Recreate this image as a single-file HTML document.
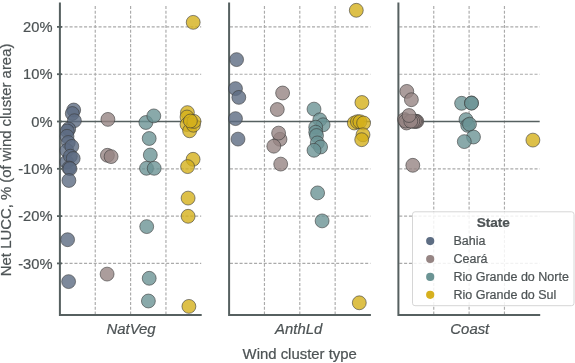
<!DOCTYPE html>
<html><head><meta charset="utf-8"><style>
html,body{margin:0;padding:0;background:#fff;}
body{width:575px;height:363px;overflow:hidden;}
svg{display:block;will-change:transform;}
.t{font-family:"Liberation Sans",sans-serif;font-size:14.7px;fill:#4d5355;stroke:#4d5355;stroke-width:0.22px;}
.lab{font-size:14.9px;}
.leg{font-size:12.5px;}
.ttl{font-size:13.6px;}
.i{font-style:italic;}
.b{font-weight:bold;}
</style></head><body>
<svg width="575" height="363" viewBox="0 0 575 363">
<line x1="95.25" y1="314.6" x2="95.25" y2="5.8" stroke="#aaaaaa" stroke-width="1.15" stroke-dasharray="3.05 1.726"/>
<line x1="130.60" y1="314.6" x2="130.60" y2="5.8" stroke="#aaaaaa" stroke-width="1.15" stroke-dasharray="3.05 1.726"/>
<line x1="165.95" y1="314.6" x2="165.95" y2="5.8" stroke="#aaaaaa" stroke-width="1.15" stroke-dasharray="3.05 1.726"/>
<line x1="59.9" y1="26.90" x2="201.20" y2="26.90" stroke="#aaaaaa" stroke-width="1.15" stroke-dasharray="3.05 1.78"/>
<line x1="59.9" y1="74.20" x2="201.20" y2="74.20" stroke="#aaaaaa" stroke-width="1.15" stroke-dasharray="3.05 1.78"/>
<line x1="59.9" y1="168.80" x2="201.20" y2="168.80" stroke="#aaaaaa" stroke-width="1.15" stroke-dasharray="3.05 1.78"/>
<line x1="59.9" y1="216.10" x2="201.20" y2="216.10" stroke="#aaaaaa" stroke-width="1.15" stroke-dasharray="3.05 1.78"/>
<line x1="59.9" y1="263.40" x2="201.20" y2="263.40" stroke="#aaaaaa" stroke-width="1.15" stroke-dasharray="3.05 1.78"/>
<line x1="264.45" y1="314.6" x2="264.45" y2="5.8" stroke="#aaaaaa" stroke-width="1.15" stroke-dasharray="3.05 1.726"/>
<line x1="299.80" y1="314.6" x2="299.80" y2="5.8" stroke="#aaaaaa" stroke-width="1.15" stroke-dasharray="3.05 1.726"/>
<line x1="335.15" y1="314.6" x2="335.15" y2="5.8" stroke="#aaaaaa" stroke-width="1.15" stroke-dasharray="3.05 1.726"/>
<line x1="229.9" y1="26.90" x2="370.40" y2="26.90" stroke="#aaaaaa" stroke-width="1.15" stroke-dasharray="3.05 1.78"/>
<line x1="229.9" y1="74.20" x2="370.40" y2="74.20" stroke="#aaaaaa" stroke-width="1.15" stroke-dasharray="3.05 1.78"/>
<line x1="229.9" y1="168.80" x2="370.40" y2="168.80" stroke="#aaaaaa" stroke-width="1.15" stroke-dasharray="3.05 1.78"/>
<line x1="229.9" y1="216.10" x2="370.40" y2="216.10" stroke="#aaaaaa" stroke-width="1.15" stroke-dasharray="3.05 1.78"/>
<line x1="229.9" y1="263.40" x2="370.40" y2="263.40" stroke="#aaaaaa" stroke-width="1.15" stroke-dasharray="3.05 1.78"/>
<line x1="433.75" y1="314.6" x2="433.75" y2="5.8" stroke="#aaaaaa" stroke-width="1.15" stroke-dasharray="3.05 1.726"/>
<line x1="469.10" y1="314.6" x2="469.10" y2="5.8" stroke="#aaaaaa" stroke-width="1.15" stroke-dasharray="3.05 1.726"/>
<line x1="504.45" y1="314.6" x2="504.45" y2="5.8" stroke="#aaaaaa" stroke-width="1.15" stroke-dasharray="3.05 1.726"/>
<line x1="399.25" y1="26.90" x2="539.70" y2="26.90" stroke="#aaaaaa" stroke-width="1.15" stroke-dasharray="3.05 1.78"/>
<line x1="399.25" y1="74.20" x2="539.70" y2="74.20" stroke="#aaaaaa" stroke-width="1.15" stroke-dasharray="3.05 1.78"/>
<line x1="399.25" y1="168.80" x2="539.70" y2="168.80" stroke="#aaaaaa" stroke-width="1.15" stroke-dasharray="3.05 1.78"/>
<line x1="399.25" y1="216.10" x2="539.70" y2="216.10" stroke="#aaaaaa" stroke-width="1.15" stroke-dasharray="3.05 1.78"/>
<line x1="399.25" y1="263.40" x2="539.70" y2="263.40" stroke="#aaaaaa" stroke-width="1.15" stroke-dasharray="3.05 1.78"/>
<line x1="59.9" y1="121.5" x2="201.20" y2="121.5" stroke="#566060" stroke-width="1.4"/>
<line x1="229.1" y1="121.5" x2="370.40" y2="121.5" stroke="#566060" stroke-width="1.4"/>
<line x1="398.4" y1="121.5" x2="539.70" y2="121.5" stroke="#566060" stroke-width="1.4"/>
<path d="M59.9 2.5 V315.0 H201.70" fill="none" stroke="#566060" stroke-width="2" stroke-linejoin="miter"/>
<path d="M229.1 2.5 V315.0 H370.90" fill="none" stroke="#566060" stroke-width="2" stroke-linejoin="miter"/>
<path d="M398.4 2.5 V315.0 H540.20" fill="none" stroke="#566060" stroke-width="2" stroke-linejoin="miter"/>
<circle cx="73.7" cy="110" r="6.95" fill="#5c6c82" fill-opacity="0.8" stroke="#3a3a3a" stroke-opacity="0.85" stroke-width="0.7"/>
<circle cx="72.3" cy="113.5" r="6.95" fill="#5c6c82" fill-opacity="0.8" stroke="#3a3a3a" stroke-opacity="0.85" stroke-width="0.7"/>
<circle cx="74.4" cy="120.7" r="6.95" fill="#5c6c82" fill-opacity="0.8" stroke="#3a3a3a" stroke-opacity="0.85" stroke-width="0.7"/>
<circle cx="68.7" cy="129" r="6.95" fill="#5c6c82" fill-opacity="0.8" stroke="#3a3a3a" stroke-opacity="0.85" stroke-width="0.7"/>
<circle cx="67.3" cy="131" r="6.95" fill="#5c6c82" fill-opacity="0.8" stroke="#3a3a3a" stroke-opacity="0.85" stroke-width="0.7"/>
<circle cx="67" cy="136.3" r="6.95" fill="#5c6c82" fill-opacity="0.8" stroke="#3a3a3a" stroke-opacity="0.85" stroke-width="0.7"/>
<circle cx="68.3" cy="142.5" r="6.95" fill="#5c6c82" fill-opacity="0.8" stroke="#3a3a3a" stroke-opacity="0.85" stroke-width="0.7"/>
<circle cx="66.8" cy="150.5" r="6.95" fill="#5c6c82" fill-opacity="0.8" stroke="#3a3a3a" stroke-opacity="0.85" stroke-width="0.7"/>
<circle cx="71.8" cy="146.4" r="6.95" fill="#5c6c82" fill-opacity="0.8" stroke="#3a3a3a" stroke-opacity="0.85" stroke-width="0.7"/>
<circle cx="66.8" cy="162" r="6.95" fill="#5c6c82" fill-opacity="0.8" stroke="#3a3a3a" stroke-opacity="0.85" stroke-width="0.7"/>
<circle cx="70.4" cy="156.2" r="6.95" fill="#5c6c82" fill-opacity="0.8" stroke="#3a3a3a" stroke-opacity="0.85" stroke-width="0.7"/>
<circle cx="73.2" cy="158.5" r="6.95" fill="#5c6c82" fill-opacity="0.8" stroke="#3a3a3a" stroke-opacity="0.85" stroke-width="0.7"/>
<circle cx="69" cy="168" r="6.95" fill="#5c6c82" fill-opacity="0.8" stroke="#3a3a3a" stroke-opacity="0.85" stroke-width="0.7"/>
<circle cx="70" cy="168.7" r="6.95" fill="#5c6c82" fill-opacity="0.8" stroke="#3a3a3a" stroke-opacity="0.85" stroke-width="0.7"/>
<circle cx="68.9" cy="180.5" r="6.95" fill="#5c6c82" fill-opacity="0.8" stroke="#3a3a3a" stroke-opacity="0.85" stroke-width="0.7"/>
<circle cx="67.6" cy="239.7" r="6.95" fill="#5c6c82" fill-opacity="0.8" stroke="#3a3a3a" stroke-opacity="0.85" stroke-width="0.7"/>
<circle cx="68.6" cy="281.6" r="6.95" fill="#5c6c82" fill-opacity="0.8" stroke="#3a3a3a" stroke-opacity="0.85" stroke-width="0.7"/>
<circle cx="107.9" cy="119.4" r="6.95" fill="#968483" fill-opacity="0.8" stroke="#3a3a3a" stroke-opacity="0.85" stroke-width="0.7"/>
<circle cx="107.4" cy="155.3" r="6.95" fill="#968483" fill-opacity="0.8" stroke="#3a3a3a" stroke-opacity="0.85" stroke-width="0.7"/>
<circle cx="111.1" cy="156.6" r="6.95" fill="#968483" fill-opacity="0.8" stroke="#3a3a3a" stroke-opacity="0.85" stroke-width="0.7"/>
<circle cx="107.1" cy="274.1" r="6.95" fill="#968483" fill-opacity="0.8" stroke="#3a3a3a" stroke-opacity="0.85" stroke-width="0.7"/>
<circle cx="145.9" cy="122.5" r="6.95" fill="#6c9395" fill-opacity="0.8" stroke="#3a3a3a" stroke-opacity="0.85" stroke-width="0.7"/>
<circle cx="153.8" cy="115.9" r="6.95" fill="#6c9395" fill-opacity="0.8" stroke="#3a3a3a" stroke-opacity="0.85" stroke-width="0.7"/>
<circle cx="149.2" cy="138.5" r="6.95" fill="#6c9395" fill-opacity="0.8" stroke="#3a3a3a" stroke-opacity="0.85" stroke-width="0.7"/>
<circle cx="150.3" cy="155" r="6.95" fill="#6c9395" fill-opacity="0.8" stroke="#3a3a3a" stroke-opacity="0.85" stroke-width="0.7"/>
<circle cx="146.5" cy="168.3" r="6.95" fill="#6c9395" fill-opacity="0.8" stroke="#3a3a3a" stroke-opacity="0.85" stroke-width="0.7"/>
<circle cx="154.2" cy="168.3" r="6.95" fill="#6c9395" fill-opacity="0.8" stroke="#3a3a3a" stroke-opacity="0.85" stroke-width="0.7"/>
<circle cx="146.7" cy="226.6" r="6.95" fill="#6c9395" fill-opacity="0.8" stroke="#3a3a3a" stroke-opacity="0.85" stroke-width="0.7"/>
<circle cx="149.2" cy="278.3" r="6.95" fill="#6c9395" fill-opacity="0.8" stroke="#3a3a3a" stroke-opacity="0.85" stroke-width="0.7"/>
<circle cx="148.4" cy="301" r="6.95" fill="#6c9395" fill-opacity="0.8" stroke="#3a3a3a" stroke-opacity="0.85" stroke-width="0.7"/>
<circle cx="193.2" cy="22.35" r="6.95" fill="#d5b01c" fill-opacity="0.8" stroke="#3a3a3a" stroke-opacity="0.85" stroke-width="0.7"/>
<circle cx="187.4" cy="112.6" r="6.95" fill="#d5b01c" fill-opacity="0.8" stroke="#3a3a3a" stroke-opacity="0.85" stroke-width="0.7"/>
<circle cx="187" cy="117" r="6.95" fill="#d5b01c" fill-opacity="0.8" stroke="#3a3a3a" stroke-opacity="0.85" stroke-width="0.7"/>
<circle cx="187" cy="124.5" r="6.95" fill="#d5b01c" fill-opacity="0.8" stroke="#3a3a3a" stroke-opacity="0.85" stroke-width="0.7"/>
<circle cx="189.6" cy="130.8" r="6.95" fill="#d5b01c" fill-opacity="0.8" stroke="#3a3a3a" stroke-opacity="0.85" stroke-width="0.7"/>
<circle cx="193.4" cy="125.2" r="6.95" fill="#d5b01c" fill-opacity="0.8" stroke="#3a3a3a" stroke-opacity="0.85" stroke-width="0.7"/>
<circle cx="194" cy="121.4" r="6.95" fill="#d5b01c" fill-opacity="0.8" stroke="#3a3a3a" stroke-opacity="0.85" stroke-width="0.7"/>
<circle cx="190.4" cy="121" r="6.95" fill="#d5b01c" fill-opacity="0.8" stroke="#3a3a3a" stroke-opacity="0.85" stroke-width="0.7"/>
<circle cx="193.1" cy="159.3" r="6.95" fill="#d5b01c" fill-opacity="0.8" stroke="#3a3a3a" stroke-opacity="0.85" stroke-width="0.7"/>
<circle cx="187.6" cy="166.6" r="6.95" fill="#d5b01c" fill-opacity="0.8" stroke="#3a3a3a" stroke-opacity="0.85" stroke-width="0.7"/>
<circle cx="188.1" cy="198.1" r="6.95" fill="#d5b01c" fill-opacity="0.8" stroke="#3a3a3a" stroke-opacity="0.85" stroke-width="0.7"/>
<circle cx="188.1" cy="216.3" r="6.95" fill="#d5b01c" fill-opacity="0.8" stroke="#3a3a3a" stroke-opacity="0.85" stroke-width="0.7"/>
<circle cx="188.9" cy="306.4" r="6.95" fill="#d5b01c" fill-opacity="0.8" stroke="#3a3a3a" stroke-opacity="0.85" stroke-width="0.7"/>
<circle cx="236.6" cy="59.6" r="6.95" fill="#5c6c82" fill-opacity="0.8" stroke="#3a3a3a" stroke-opacity="0.85" stroke-width="0.7"/>
<circle cx="235.5" cy="88.6" r="6.95" fill="#5c6c82" fill-opacity="0.8" stroke="#3a3a3a" stroke-opacity="0.85" stroke-width="0.7"/>
<circle cx="238.8" cy="97.4" r="6.95" fill="#5c6c82" fill-opacity="0.8" stroke="#3a3a3a" stroke-opacity="0.85" stroke-width="0.7"/>
<circle cx="235.5" cy="118.6" r="6.95" fill="#5c6c82" fill-opacity="0.8" stroke="#3a3a3a" stroke-opacity="0.85" stroke-width="0.7"/>
<circle cx="238" cy="139.1" r="6.95" fill="#5c6c82" fill-opacity="0.8" stroke="#3a3a3a" stroke-opacity="0.85" stroke-width="0.7"/>
<circle cx="282.6" cy="93" r="6.95" fill="#968483" fill-opacity="0.8" stroke="#3a3a3a" stroke-opacity="0.85" stroke-width="0.7"/>
<circle cx="277.3" cy="109.5" r="6.95" fill="#968483" fill-opacity="0.8" stroke="#3a3a3a" stroke-opacity="0.85" stroke-width="0.7"/>
<circle cx="280" cy="139.3" r="6.95" fill="#968483" fill-opacity="0.8" stroke="#3a3a3a" stroke-opacity="0.85" stroke-width="0.7"/>
<circle cx="278.6" cy="133.1" r="6.95" fill="#968483" fill-opacity="0.8" stroke="#3a3a3a" stroke-opacity="0.85" stroke-width="0.7"/>
<circle cx="273.8" cy="146.2" r="6.95" fill="#968483" fill-opacity="0.8" stroke="#3a3a3a" stroke-opacity="0.85" stroke-width="0.7"/>
<circle cx="280.7" cy="164.1" r="6.95" fill="#968483" fill-opacity="0.8" stroke="#3a3a3a" stroke-opacity="0.85" stroke-width="0.7"/>
<circle cx="314" cy="109.1" r="6.95" fill="#6c9395" fill-opacity="0.8" stroke="#3a3a3a" stroke-opacity="0.85" stroke-width="0.7"/>
<circle cx="319.8" cy="119.8" r="6.95" fill="#6c9395" fill-opacity="0.8" stroke="#3a3a3a" stroke-opacity="0.85" stroke-width="0.7"/>
<circle cx="323.1" cy="124.8" r="6.95" fill="#6c9395" fill-opacity="0.8" stroke="#3a3a3a" stroke-opacity="0.85" stroke-width="0.7"/>
<circle cx="315.7" cy="127.2" r="6.95" fill="#6c9395" fill-opacity="0.8" stroke="#3a3a3a" stroke-opacity="0.85" stroke-width="0.7"/>
<circle cx="315.7" cy="132.2" r="6.95" fill="#6c9395" fill-opacity="0.8" stroke="#3a3a3a" stroke-opacity="0.85" stroke-width="0.7"/>
<circle cx="316.5" cy="135.5" r="6.95" fill="#6c9395" fill-opacity="0.8" stroke="#3a3a3a" stroke-opacity="0.85" stroke-width="0.7"/>
<circle cx="317.3" cy="142.9" r="6.95" fill="#6c9395" fill-opacity="0.8" stroke="#3a3a3a" stroke-opacity="0.85" stroke-width="0.7"/>
<circle cx="320.6" cy="147" r="6.95" fill="#6c9395" fill-opacity="0.8" stroke="#3a3a3a" stroke-opacity="0.85" stroke-width="0.7"/>
<circle cx="314" cy="150.3" r="6.95" fill="#6c9395" fill-opacity="0.8" stroke="#3a3a3a" stroke-opacity="0.85" stroke-width="0.7"/>
<circle cx="317.6" cy="192.9" r="6.95" fill="#6c9395" fill-opacity="0.8" stroke="#3a3a3a" stroke-opacity="0.85" stroke-width="0.7"/>
<circle cx="322.1" cy="220.9" r="6.95" fill="#6c9395" fill-opacity="0.8" stroke="#3a3a3a" stroke-opacity="0.85" stroke-width="0.7"/>
<circle cx="356.3" cy="10.3" r="6.95" fill="#d5b01c" fill-opacity="0.8" stroke="#3a3a3a" stroke-opacity="0.85" stroke-width="0.7"/>
<circle cx="361.9" cy="102.5" r="6.95" fill="#d5b01c" fill-opacity="0.8" stroke="#3a3a3a" stroke-opacity="0.85" stroke-width="0.7"/>
<circle cx="354.3" cy="123" r="6.95" fill="#d5b01c" fill-opacity="0.8" stroke="#3a3a3a" stroke-opacity="0.85" stroke-width="0.7"/>
<circle cx="357.4" cy="121.7" r="6.95" fill="#d5b01c" fill-opacity="0.8" stroke="#3a3a3a" stroke-opacity="0.85" stroke-width="0.7"/>
<circle cx="359.9" cy="121.7" r="6.95" fill="#d5b01c" fill-opacity="0.8" stroke="#3a3a3a" stroke-opacity="0.85" stroke-width="0.7"/>
<circle cx="363.6" cy="123" r="6.95" fill="#d5b01c" fill-opacity="0.8" stroke="#3a3a3a" stroke-opacity="0.85" stroke-width="0.7"/>
<circle cx="363" cy="134.8" r="6.95" fill="#d5b01c" fill-opacity="0.8" stroke="#3a3a3a" stroke-opacity="0.85" stroke-width="0.7"/>
<circle cx="361.7" cy="139.7" r="6.95" fill="#d5b01c" fill-opacity="0.8" stroke="#3a3a3a" stroke-opacity="0.85" stroke-width="0.7"/>
<circle cx="359.3" cy="302.8" r="6.95" fill="#d5b01c" fill-opacity="0.8" stroke="#3a3a3a" stroke-opacity="0.85" stroke-width="0.7"/>
<circle cx="406.8" cy="91.4" r="6.95" fill="#968483" fill-opacity="0.8" stroke="#3a3a3a" stroke-opacity="0.85" stroke-width="0.7"/>
<circle cx="411.4" cy="99.7" r="6.95" fill="#968483" fill-opacity="0.8" stroke="#3a3a3a" stroke-opacity="0.85" stroke-width="0.7"/>
<circle cx="404.5" cy="119.5" r="6.95" fill="#968483" fill-opacity="0.8" stroke="#3a3a3a" stroke-opacity="0.85" stroke-width="0.7"/>
<circle cx="406.5" cy="123" r="6.95" fill="#968483" fill-opacity="0.8" stroke="#3a3a3a" stroke-opacity="0.85" stroke-width="0.7"/>
<circle cx="405.5" cy="121" r="6.95" fill="#968483" fill-opacity="0.8" stroke="#3a3a3a" stroke-opacity="0.85" stroke-width="0.7"/>
<circle cx="416.8" cy="121.3" r="6.95" fill="#968483" fill-opacity="0.8" stroke="#3a3a3a" stroke-opacity="0.85" stroke-width="0.7"/>
<circle cx="415.8" cy="121.3" r="6.95" fill="#968483" fill-opacity="0.8" stroke="#3a3a3a" stroke-opacity="0.85" stroke-width="0.7"/>
<circle cx="414.5" cy="121.3" r="6.95" fill="#968483" fill-opacity="0.8" stroke="#3a3a3a" stroke-opacity="0.85" stroke-width="0.7"/>
<circle cx="412.8" cy="121.3" r="6.95" fill="#968483" fill-opacity="0.8" stroke="#3a3a3a" stroke-opacity="0.85" stroke-width="0.7"/>
<circle cx="410.8" cy="121.2" r="6.95" fill="#968483" fill-opacity="0.8" stroke="#3a3a3a" stroke-opacity="0.85" stroke-width="0.7"/>
<circle cx="409" cy="115.5" r="6.95" fill="#968483" fill-opacity="0.8" stroke="#3a3a3a" stroke-opacity="0.85" stroke-width="0.7"/>
<circle cx="412.8" cy="165.3" r="6.95" fill="#968483" fill-opacity="0.8" stroke="#3a3a3a" stroke-opacity="0.85" stroke-width="0.7"/>
<circle cx="461.6" cy="103.3" r="6.95" fill="#6c9395" fill-opacity="0.8" stroke="#3a3a3a" stroke-opacity="0.85" stroke-width="0.7"/>
<circle cx="471.5" cy="102.9" r="6.95" fill="#6c9395" fill-opacity="0.8" stroke="#3a3a3a" stroke-opacity="0.85" stroke-width="0.7"/>
<circle cx="471.5" cy="103.2" r="6.95" fill="#6c9395" fill-opacity="0.8" stroke="#3a3a3a" stroke-opacity="0.85" stroke-width="0.7"/>
<circle cx="466" cy="119.6" r="6.95" fill="#6c9395" fill-opacity="0.8" stroke="#3a3a3a" stroke-opacity="0.85" stroke-width="0.7"/>
<circle cx="467.7" cy="125.4" r="6.95" fill="#6c9395" fill-opacity="0.8" stroke="#3a3a3a" stroke-opacity="0.85" stroke-width="0.7"/>
<circle cx="469.5" cy="124.2" r="6.95" fill="#6c9395" fill-opacity="0.8" stroke="#3a3a3a" stroke-opacity="0.85" stroke-width="0.7"/>
<circle cx="473.5" cy="137" r="6.95" fill="#6c9395" fill-opacity="0.8" stroke="#3a3a3a" stroke-opacity="0.85" stroke-width="0.7"/>
<circle cx="464.3" cy="141.6" r="6.95" fill="#6c9395" fill-opacity="0.8" stroke="#3a3a3a" stroke-opacity="0.85" stroke-width="0.7"/>
<circle cx="532.9" cy="140.1" r="6.95" fill="#d5b01c" fill-opacity="0.8" stroke="#3a3a3a" stroke-opacity="0.85" stroke-width="0.7"/>
<line x1="57" y1="26.90" x2="62" y2="26.90" stroke="#566060" stroke-width="1.8"/>
<text x="52.5" y="32.10" text-anchor="end" class="t">20%</text>
<line x1="57" y1="74.20" x2="62" y2="74.20" stroke="#566060" stroke-width="1.8"/>
<text x="52.5" y="79.40" text-anchor="end" class="t">10%</text>
<line x1="57" y1="121.50" x2="62" y2="121.50" stroke="#566060" stroke-width="1.8"/>
<text x="52.5" y="126.70" text-anchor="end" class="t">0%</text>
<line x1="57" y1="168.80" x2="62" y2="168.80" stroke="#566060" stroke-width="1.8"/>
<text x="52.5" y="174.00" text-anchor="end" class="t">-10%</text>
<line x1="57" y1="216.10" x2="62" y2="216.10" stroke="#566060" stroke-width="1.8"/>
<text x="52.5" y="221.30" text-anchor="end" class="t">-20%</text>
<line x1="57" y1="263.40" x2="62" y2="263.40" stroke="#566060" stroke-width="1.8"/>
<text x="52.5" y="268.60" text-anchor="end" class="t">-30%</text>
<text x="131.10" y="334.4" text-anchor="middle" class="t i lab">NatVeg</text>
<text x="298.70" y="334.4" text-anchor="middle" class="t i lab">AnthLd</text>
<text x="469.80" y="334.4" text-anchor="middle" class="t i lab">Coast</text>
<text x="299.7" y="359.3" text-anchor="middle" class="t lab">Wind cluster type</text>
<text transform="translate(10.5,159.9) rotate(-90)" text-anchor="middle" class="t lab">Net LUCC, % (of wind cluster area)</text>
<rect x="412.5" y="211.8" width="161.5" height="93.9" rx="2.5" fill="#ffffff" fill-opacity="0.85" stroke="#d6d6d6" stroke-width="1"/>
<text x="493.3" y="227.3" text-anchor="middle" class="t b ttl">State</text>
<circle cx="430.2" cy="241.10" r="4.1" fill="#5d6d83"/>
<text x="453.5" y="244.90" class="t leg">Bahia</text>
<circle cx="430.2" cy="259.00" r="4.1" fill="#968584"/>
<text x="453.5" y="262.80" class="t leg">Ceará</text>
<circle cx="430.2" cy="276.90" r="4.1" fill="#6b9494"/>
<text x="453.5" y="280.70" class="t leg">Rio Grande do Norte</text>
<circle cx="430.2" cy="294.80" r="4.1" fill="#d6b01e"/>
<text x="453.5" y="298.60" class="t leg">Rio Grande do Sul</text>
</svg>
</body></html>
